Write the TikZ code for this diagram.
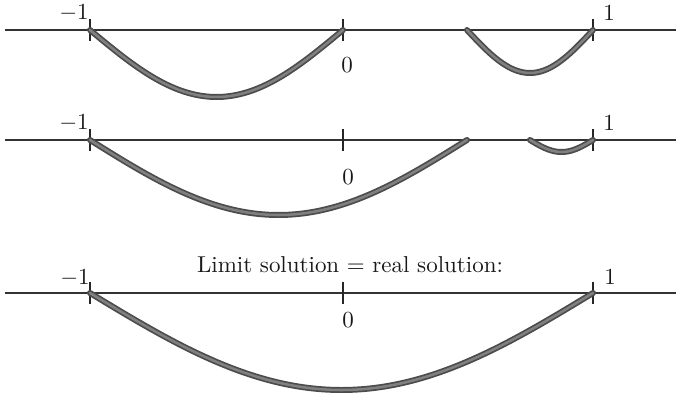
\documentclass[tikz,border=0pt]{standalone}
\begin{document}
\begin{tikzpicture}[x=0.435pt,y=-0.435pt,
  axis/.style={line width=0.6pt, draw=black!80},
  tickmark/.style={line width=0.6pt, draw=black!85},
  sol/.style={draw=black!70, double=black!50, line width=0.75pt, double distance=1.1pt, line cap=round},
  lbl/.style={inner sep=0pt, text=black!90}]
\useasboundingbox (0,0) rectangle (676,398);
% axes with ticks
\foreach \yy/\nm in {30/a,140/b,293/c} {
  \coordinate (\nm L) at (5,\yy);
  \coordinate (\nm R) at (676,\yy);
  \draw[axis] (\nm L) -- (\nm R);
  \foreach \xx/\t in {90/m,343/z,593/p} {
    \coordinate (\nm\t top) at (\xx,\yy-11);
    \coordinate (\nm\t bot) at (\xx,\yy+11);
    \draw[tickmark] (\nm\t top) -- (\nm\t bot);
  }
}
% labels
\node[lbl] (am) at (74,13) {$-1$};
\node[lbl] (ap) at (609,13) {$1$};
\node[lbl] (az) at (347,65) {$0$};
\node[lbl] (bm) at (74,123) {$-1$};
\node[lbl] (bp) at (609,123) {$1$};
\node[lbl] (bz) at (348,177) {$0$};
\node[lbl] (title) at (350,265) {Limit solution = real solution:};
\node[lbl] (cm) at (75,278) {$-1$};
\node[lbl] (cp) at (610,277) {$1$};
\node[lbl] (cz) at (348,320) {$0$};
% solution curves
\draw[sol] plot[domain=-90:90, samples=60, smooth] ({216.5+126.5*(\x/90)},{30+67*cos(\x)});
\draw[sol] plot[domain=-90:90, samples=40, smooth] ({530+63*(\x/90)},{30+43*cos(\x)});
\draw[sol] plot[domain=-90:90, samples=60, smooth] ({278.5+188.5*(\x/90)},{140+75*cos(\x)});
\draw[sol] plot[domain=-90:90, samples=30, smooth] ({561.5+31.5*(\x/90)},{140+12*cos(\x)});
\draw[sol] plot[domain=-90:90, samples=80, smooth] ({341.5+251.5*(\x/90)},{293+97*cos(\x)});
\end{tikzpicture}
\end{document}
